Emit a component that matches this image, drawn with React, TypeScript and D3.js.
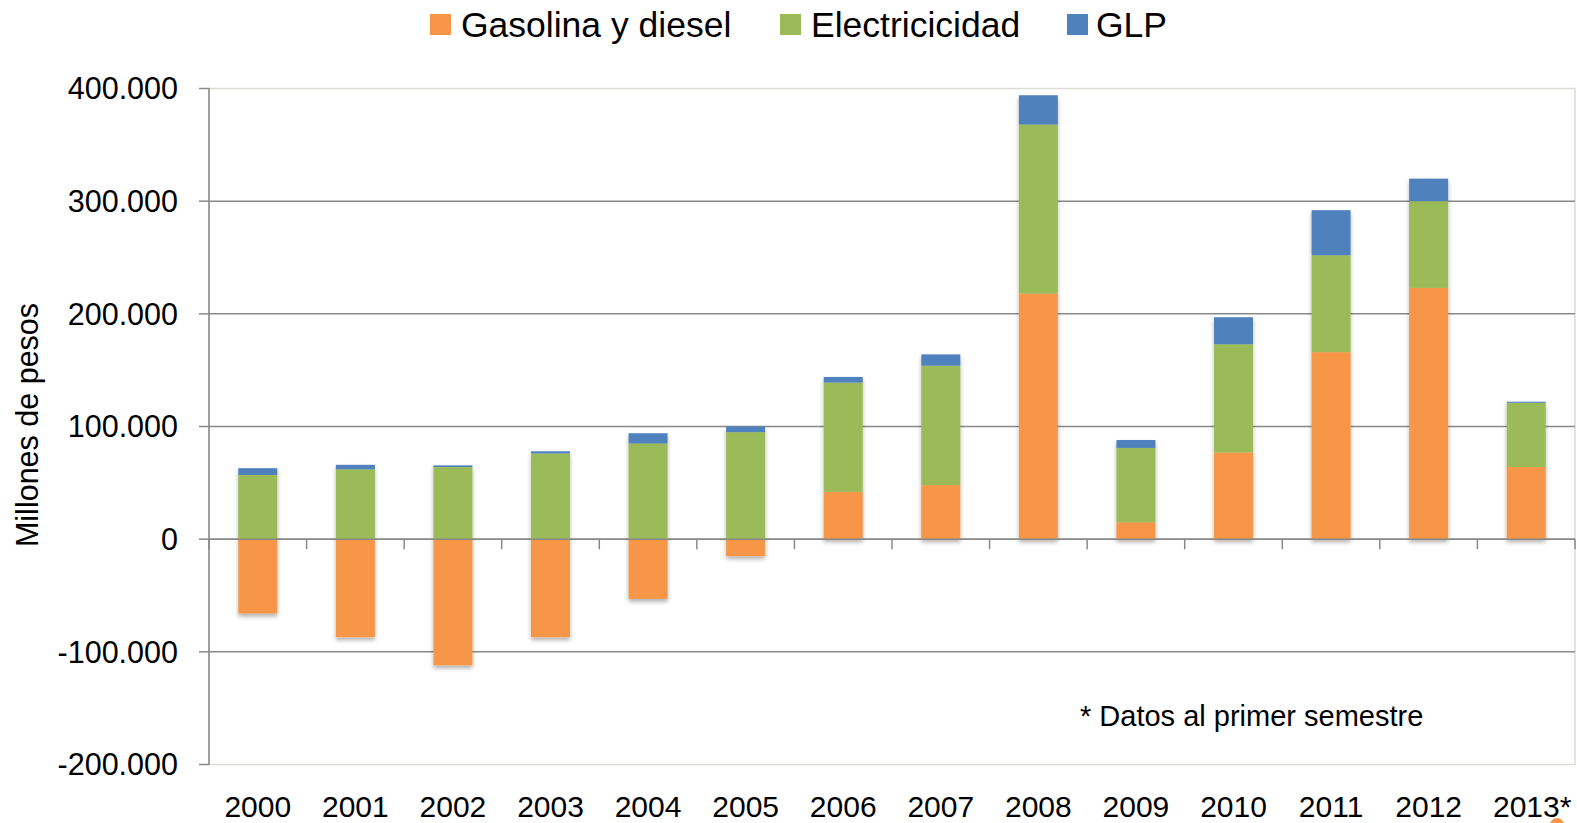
import React from 'react';
import * as d3 from 'd3';

// Data (millones de pesos)

const years = ['2000', '2001', '2002', '2003', '2004', '2005', '2006', '2007', '2008', '2009', '2010', '2011', '2012', '2013*'];

const gasolinaDiesel = [-66000, -87000, -112000, -87000, -53000, -15000, 42000, 48000, 218000, 15000, 77000, 166000, 223000, 64000];
const electricidad = [57000, 62000, 64000, 76000, 85000, 95000, 97000, 106000, 150000, 66000, 96000, 86000, 77000, 57000];
const glp = [6000, 4000, 1500, 2000, 9000, 5000, 5000, 10000, 26000, 7000, 24000, 40000, 20000, 1000];

const seriesNames = ['Gasolina y diesel', 'Electricicidad', 'GLP'];
const seriesColors = ['#F79646', '#9BBB59', '#4F81BD'];

const yTicks = [-200000, -100000, 0, 100000, 200000, 300000, 400000];

const W = 1577;
const H = 823;
const FONT = '"Liberation Sans", Arial, sans-serif';

type Row = { year: string; g: number; e: number; p: number };

const rows: Row[] = years.map((year, i) => ({ year, g: gasolinaDiesel[i], e: electricidad[i], p: glp[i] }));

// Spanish style thousands separator, plain hyphen for negatives
const fmt = (v: number) => d3.format(',')(v).replace(/,/g, '.').replace('\u2212', '-');

function Chart() {
    const plot = { left: 209, right: 1575, top: 88.5, bottom: 764.5 };

    const x = d3.scaleBand<string>()
        .domain(years)
        .range([plot.left, plot.right])
        .paddingInner(0.6)
        .paddingOuter(0.3);

    const y = d3.scaleLinear()
        .domain([-200000, 400000])
        .range([plot.bottom, plot.top]);

    const stack = d3.stack<Row>()
        .keys(['g', 'e', 'p'])
        .offset(d3.stackOffsetDiverging);
    const layers = stack(rows);

    const step = x.step();
    const catTicks = d3.range(years.length + 1).map((i) => plot.left + i * step);

    // legend positions (x of square, x of text)
    const legendItems = [
        { sx: 430, tx: 461 },
        { sx: 780, tx: 811 },
        { sx: 1067, tx: 1096 },
    ];

    return (
        <svg width={W} height={H} style={{ position: 'absolute', left: 0, top: 0, background: '#fff' }} fontFamily={FONT}>
            <defs>
                <filter id="barShadow" x="-20%" y="-5%" width="140%" height="115%">
                    <feDropShadow dx="0" dy="3" stdDeviation="2" floodColor="#000" floodOpacity="0.3" />
                </filter>
            </defs>

            {/* legend */}
            <g>
                {seriesNames.map((name, i) => (
                    <g key={name}>
                        <rect x={legendItems[i].sx} y={14} width={21} height={21} fill={seriesColors[i]} />
                        <text x={legendItems[i].tx} y={37} fontSize={35.5} fill="#000">{name}</text>
                    </g>
                ))}
            </g>

            {/* plot area border */}
            <rect x={plot.left} y={plot.top} width={plot.right - plot.left} height={plot.bottom - plot.top}
                fill="none" stroke="#dcdcd4" strokeWidth={1.5} />

            {/* gridlines */}
            <g stroke="#888" strokeWidth={1.5}>
                {yTicks.filter((t) => t !== 400000 && t !== -200000).map((t) => (
                    <line key={t} x1={plot.left} x2={plot.right} y1={y(t)} y2={y(t)} />
                ))}
            </g>

            {/* bars */}
            <g filter="url(#barShadow)">
                {layers.map((layer, li) => (
                    <g key={layer.key} fill={seriesColors[li]}>
                        {layer.map((d, i) => {
                            const y0 = y(d[0]);
                            const y1 = y(d[1]);
                            const h = Math.abs(y0 - y1);
                            if (h < 0.01) return null;
                            return (
                                <rect key={i} x={x(d.data.year)} width={x.bandwidth()}
                                    y={Math.min(y0, y1)} height={h} />
                            );
                        })}
                    </g>
                ))}
            </g>

            {/* y axis */}
            <g stroke="#888" strokeWidth={1.5}>
                <line x1={plot.left} x2={plot.left} y1={plot.top - 0.5} y2={plot.bottom + 0.5} />
                {yTicks.map((t) => (
                    <line key={t} x1={plot.left - 10} x2={plot.left} y1={y(t)} y2={y(t)} />
                ))}
                {/* zero axis with category ticks */}
                <line x1={plot.left} x2={plot.right} y1={y(0)} y2={y(0)} />
                {catTicks.map((cx, i) => (
                    <line key={i} x1={cx} x2={cx} y1={y(0)} y2={y(0) + 10} />
                ))}
            </g>
            <g fontSize={30.5} fill="#000" textAnchor="end">
                {yTicks.map((t) => (
                    <text key={t} x={178} y={y(t)} dy="0.36em">{fmt(t)}</text>
                ))}
            </g>

            {/* x labels */}
            <g fontSize={30} fill="#000" textAnchor="middle">
                {years.map((yr) => (
                    <text key={yr} x={(x(yr) as number) + x.bandwidth() / 2 + (yr.endsWith('*') ? 6 : 0)} y={817}>{yr}</text>
                ))}
            </g>

            {/* axis title */}
            <text transform={`translate(38,425) rotate(-90)`} textAnchor="middle" fontSize={30.5} fill="#000">
                Millones de pesos
            </text>

            {/* note */}
            <text x={1080} y={726} fontSize={29} fill="#000">* Datos al primer semestre</text>

            <circle cx={1557} cy={825} r={7} fill="#F79646" />
        </svg>
    );
}

export default function App() {
    return <Chart />;
}
